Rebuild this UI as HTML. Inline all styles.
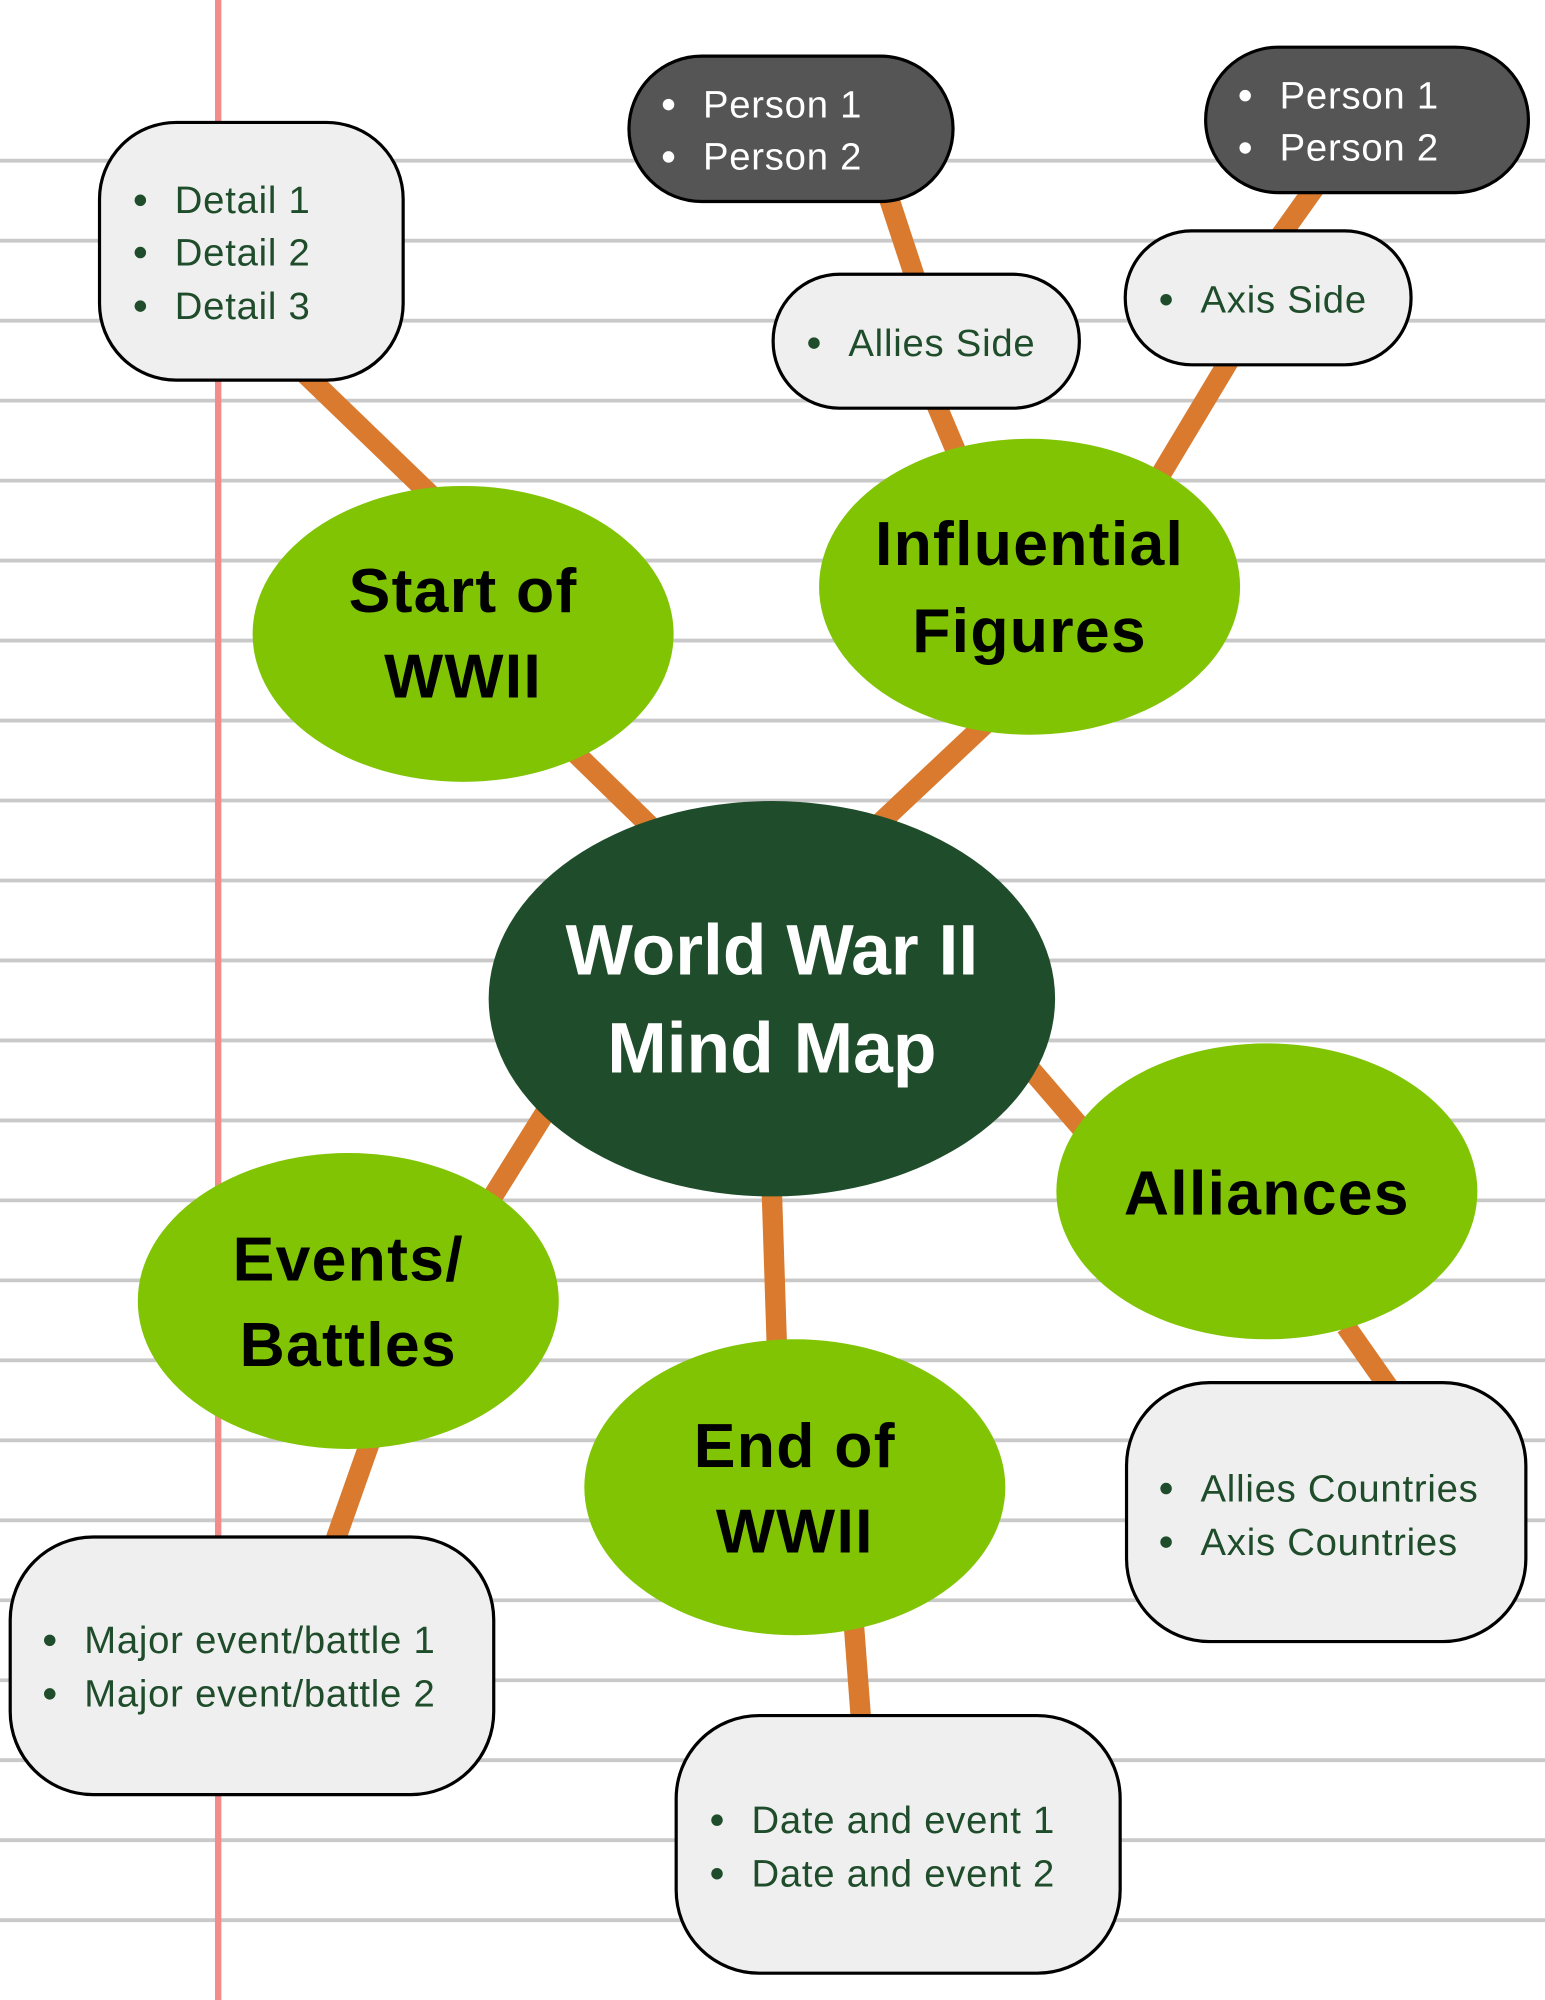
<!DOCTYPE html>
<html><head><meta charset="utf-8"><style>html,body{margin:0;padding:0;background:#fff}svg{display:block}</style></head>
<body>
<svg width="1545" height="2000" viewBox="0 0 1211 1568" preserveAspectRatio="none" xmlns="http://www.w3.org/2000/svg" font-family="'Liberation Sans', sans-serif">
<rect width="1211" height="1568" fill="#fff"/>
<g stroke="#c9c9c9" stroke-width="3">
<line x1="0" y1="126" x2="1211" y2="126"/><line x1="0" y1="188.7" x2="1211" y2="188.7"/><line x1="0" y1="251.4" x2="1211" y2="251.4"/><line x1="0" y1="314.1" x2="1211" y2="314.1"/><line x1="0" y1="376.8" x2="1211" y2="376.8"/><line x1="0" y1="439.5" x2="1211" y2="439.5"/><line x1="0" y1="502.2" x2="1211" y2="502.2"/><line x1="0" y1="564.9" x2="1211" y2="564.9"/><line x1="0" y1="627.6" x2="1211" y2="627.6"/><line x1="0" y1="690.3" x2="1211" y2="690.3"/><line x1="0" y1="753" x2="1211" y2="753"/><line x1="0" y1="815.7" x2="1211" y2="815.7"/><line x1="0" y1="878.4" x2="1211" y2="878.4"/><line x1="0" y1="941.1" x2="1211" y2="941.1"/><line x1="0" y1="1003.8" x2="1211" y2="1003.8"/><line x1="0" y1="1066.5" x2="1211" y2="1066.5"/><line x1="0" y1="1129.2" x2="1211" y2="1129.2"/><line x1="0" y1="1191.9" x2="1211" y2="1191.9"/><line x1="0" y1="1254.6" x2="1211" y2="1254.6"/><line x1="0" y1="1317.3" x2="1211" y2="1317.3"/><line x1="0" y1="1380" x2="1211" y2="1380"/><line x1="0" y1="1442.7" x2="1211" y2="1442.7"/><line x1="0" y1="1505.4" x2="1211" y2="1505.4"/>
</g>
<line x1="171" y1="0" x2="171" y2="1568" stroke="#f38b8b" stroke-width="5"/>
<g stroke="#d97a2e" stroke-width="16">
<line x1="238" y1="292" x2="350" y2="400"/>
<line x1="430" y1="570" x2="512" y2="650"/>
<line x1="690" y1="645" x2="775" y2="565"/>
<line x1="733" y1="315" x2="752" y2="360"/>
<line x1="695" y1="150" x2="718" y2="220"/>
<line x1="965" y1="280" x2="905" y2="380"/>
<line x1="1032" y1="145" x2="1000" y2="190"/>
<line x1="805" y1="835" x2="855" y2="893"/>
<line x1="1055" y1="1040" x2="1090" y2="1090"/>
<line x1="430" y1="868" x2="385" y2="940"/>
<line x1="292" y1="1125" x2="262" y2="1210"/>
<line x1="605" y1="935" x2="609" y2="1058"/>
<line x1="669" y1="1270" x2="675" y2="1350"/>
</g>
<ellipse cx="605" cy="783" rx="222" ry="155" fill="#1f4d2b"/>
<text x="605" y="764" text-anchor="middle" font-size="56" font-weight="bold" fill="#fff" letter-spacing="0">World War II</text>
<text x="605" y="841" text-anchor="middle" font-size="56" font-weight="bold" fill="#fff" letter-spacing="0">Mind Map</text>
<g fill="#80c404">
<ellipse cx="363" cy="497" rx="165" ry="116"/>
<ellipse cx="807" cy="460" rx="165" ry="116"/>
<ellipse cx="993" cy="934" rx="165" ry="116"/>
<ellipse cx="273" cy="1020" rx="165" ry="116"/>
<ellipse cx="623" cy="1166" rx="165" ry="116"/>
</g>
<g font-size="49" font-weight="bold" fill="#000" text-anchor="middle" letter-spacing="1">
<text x="363" y="480">Start of</text><text x="363" y="547">WWII</text>
<text x="807" y="443">Influential</text><text x="807" y="511">Figures</text>
<text x="993" y="952">Alliances</text>
<text x="273" y="1004">Events/</text><text x="273" y="1071">Battles</text>
<text x="623" y="1150">End of</text><text x="623" y="1217">WWII</text>
</g>
<g stroke="#000" stroke-width="2.5">
<rect x="78" y="96" width="238" height="202" rx="60" fill="#efefef"/>
<rect x="493" y="44" width="254" height="114" rx="57" fill="#555"/>
<rect x="945" y="37" width="253" height="114" rx="57" fill="#555"/>
<rect x="606" y="215" width="240" height="105" rx="52" fill="#efefef"/>
<rect x="882" y="181" width="224" height="105" rx="52" fill="#efefef"/>
<rect x="8" y="1205" width="379" height="202" rx="65" fill="#efefef"/>
<rect x="530" y="1345" width="348" height="202" rx="65" fill="#efefef"/>
<rect x="883" y="1084" width="313" height="203" rx="65" fill="#efefef"/>
</g>
<g font-size="30" fill="#1f4d2b" letter-spacing="0.6">
<text x="137" y="167">Detail 1</text><text x="137" y="208">Detail 2</text><text x="137" y="250">Detail 3</text>
<text x="665" y="279">Allies Side</text>
<text x="941" y="245">Axis Side</text>
<text x="66" y="1296">Major event/battle 1</text><text x="66" y="1338">Major event/battle 2</text>
<text x="589" y="1437">Date and event 1</text><text x="589" y="1479">Date and event 2</text>
<text x="941" y="1177">Allies Countries</text><text x="941" y="1219">Axis Countries</text>
</g>
<g fill="#1f4d2b">
<circle cx="110" cy="157" r="4.5"/><circle cx="110" cy="198" r="4.5"/><circle cx="110" cy="240" r="4.5"/>
<circle cx="638" cy="269" r="4.5"/><circle cx="914" cy="235" r="4.5"/>
<circle cx="39" cy="1286" r="4.5"/><circle cx="39" cy="1328" r="4.5"/>
<circle cx="562" cy="1427" r="4.5"/><circle cx="562" cy="1469" r="4.5"/>
<circle cx="914" cy="1167" r="4.5"/><circle cx="914" cy="1209" r="4.5"/>
</g>
<g font-size="30" fill="#fff" letter-spacing="0.6">
<text x="551" y="92">Person 1</text><text x="551" y="133">Person 2</text>
<text x="1003" y="85">Person 1</text><text x="1003" y="126">Person 2</text>
</g>
<g fill="#fff">
<circle cx="524" cy="82" r="4.5"/><circle cx="524" cy="123" r="4.5"/>
<circle cx="976" cy="75" r="4.5"/><circle cx="976" cy="116" r="4.5"/>
</g>
</svg>
</body></html>
